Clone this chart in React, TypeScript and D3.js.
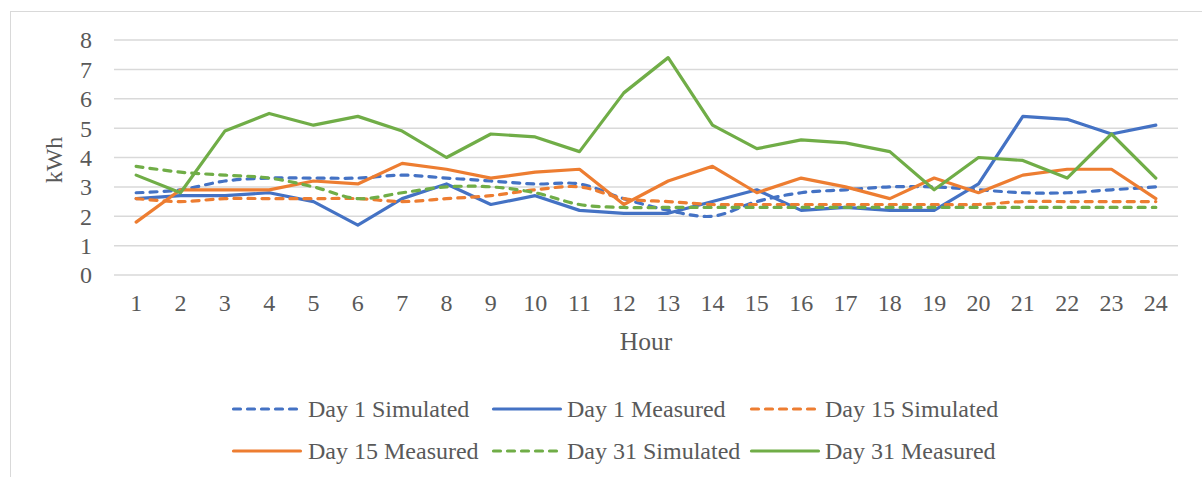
import React from "react";
import * as d3 from "d3";

const hours = ["1","2","3","4","5","6","7","8","9","10","11","12","13","14","15","16","17","18","19","20","21","22","23","24"];
const yTicks = [0, 1, 2, 3, 4, 5, 6, 7, 8];

const day1Simulated = [2.8, 2.9, 3.2, 3.3, 3.3, 3.3, 3.4, 3.3, 3.2, 3.1, 3.1, 2.6, 2.2, 2.0, 2.5, 2.8, 2.9, 3.0, 3.0, 2.9, 2.8, 2.8, 2.9, 3.0];
const day1Measured = [2.6, 2.7, 2.7, 2.8, 2.5, 1.7, 2.6, 3.1, 2.4, 2.7, 2.2, 2.1, 2.1, 2.5, 2.9, 2.2, 2.3, 2.2, 2.2, 3.1, 5.4, 5.3, 4.8, 5.1];
const day15Simulated = [2.6, 2.5, 2.6, 2.6, 2.6, 2.6, 2.5, 2.6, 2.7, 2.9, 3.0, 2.6, 2.5, 2.4, 2.4, 2.4, 2.4, 2.4, 2.4, 2.4, 2.5, 2.5, 2.5, 2.5];
const day15Measured = [1.8, 2.9, 2.9, 2.9, 3.2, 3.1, 3.8, 3.6, 3.3, 3.5, 3.6, 2.4, 3.2, 3.7, 2.8, 3.3, 3.0, 2.6, 3.3, 2.8, 3.4, 3.6, 3.6, 2.6];
const day31Simulated = [3.7, 3.5, 3.4, 3.3, 3.0, 2.6, 2.8, 3.0, 3.0, 2.8, 2.4, 2.3, 2.3, 2.3, 2.3, 2.3, 2.3, 2.3, 2.3, 2.3, 2.3, 2.3, 2.3, 2.3];
const day31Measured = [3.4, 2.8, 4.9, 5.5, 5.1, 5.4, 4.9, 4.0, 4.8, 4.7, 4.2, 6.2, 7.4, 5.1, 4.3, 4.6, 4.5, 4.2, 2.9, 4.0, 3.9, 3.3, 4.8, 3.3];

const seriesNames = ["Day 1 Simulated", "Day 1 Measured", "Day 15 Simulated", "Day 15 Measured", "Day 31 Simulated", "Day 31 Measured"];
const seriesValues = [day1Simulated, day1Measured, day15Simulated, day15Measured, day31Simulated, day31Measured];
const seriesColors = ["#4472C4", "#4472C4", "#ED7D31", "#ED7D31", "#70AD47", "#70AD47"];
const seriesDashed = [true, false, true, false, true, false];

const FONT = "'Liberation Serif', 'Times New Roman', serif";
const TEXT = "#595959";

export default function App() {
  const left = 114, right = 1178, top = 40, bottom = 275;
  const x = d3.scalePoint<string>().domain(hours).range([left, right]).padding(0.5);
  const y = d3.scaleLinear().domain([0, 8]).range([bottom, top]);

  const straight = d3.line<number>().x((_, i) => x(hours[i]) as number).y(d => y(d));
  const smooth = d3.line<number>().x((_, i) => x(hours[i]) as number).y(d => y(d)).curve(d3.curveCatmullRom.alpha(0.5));

  const legendItems = [
    { lx: 232, tx: 308, ly: 409 },
    { lx: 492, tx: 567, ly: 409 },
    { lx: 750, tx: 825, ly: 409 },
    { lx: 232, tx: 308, ly: 451 },
    { lx: 492, tx: 567, ly: 451 },
    { lx: 750, tx: 825, ly: 451 },
  ];
  const DASH = "7 7";

  return (
    <svg width={1202} height={477} style={{ position: "absolute", left: 0, top: 0, background: "#fff" }}>
      <rect x={10.5} y={11.5} width={1250} height={520} fill="#fff" stroke="#d9d9d9" strokeWidth={1} />
      {yTicks.map(t => (
        <g key={t}>
          <line x1={left} x2={right} y1={y(t)} y2={y(t)} stroke="#d9d9d9" strokeWidth={1.5} />
          <text x={92} y={y(t)} dy="0.35em" textAnchor="end" fontFamily={FONT} fontSize={24} fill={TEXT}>{t}</text>
        </g>
      ))}
      {hours.map(h => (
        <text key={h} x={x(h)} y={303} dy="0.35em" textAnchor="middle" fontFamily={FONT} fontSize={24} fill={TEXT}>{h}</text>
      ))}
      <text transform="translate(62,160) rotate(-90)" textAnchor="middle" fontFamily={FONT} fontSize={24} fill={TEXT}>kWh</text>
      <text x={646} y={341} dy="0.35em" textAnchor="middle" fontFamily={FONT} fontSize={25.5} fill={TEXT}>Hour</text>
      {seriesValues.map((vals, i) => (
        <path key={i} d={(seriesDashed[i] ? smooth : straight)(vals) || ""} fill="none" stroke={seriesColors[i]} strokeWidth={3.2}
          strokeDasharray={seriesDashed[i] ? DASH : undefined} strokeLinejoin="round" strokeLinecap="round" />
      ))}
      {legendItems.map((it, i) => (
        <g key={i}>
          <line x1={it.lx + 1.5} x2={it.lx + 68.5} y1={it.ly} y2={it.ly} stroke={seriesColors[i]} strokeWidth={3.2}
            strokeDasharray={seriesDashed[i] ? DASH : undefined} strokeLinecap="round" />
          <text x={it.tx} y={it.ly} dy="0.35em" fontFamily={FONT} fontSize={24} fill={TEXT}>{seriesNames[i]}</text>
        </g>
      ))}
    </svg>
  );
}
